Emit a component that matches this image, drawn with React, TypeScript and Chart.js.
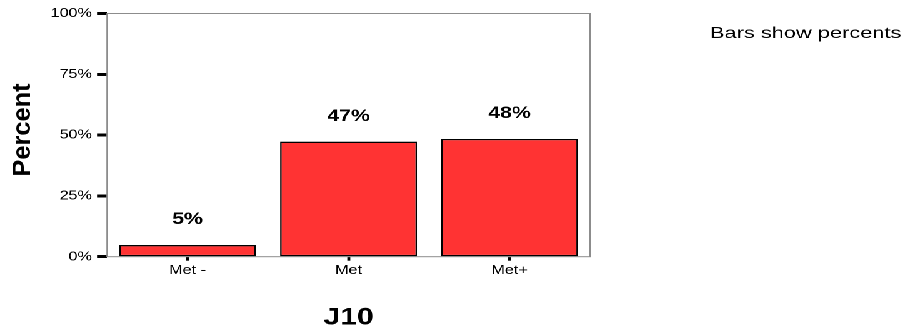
import React, { useEffect, useRef } from 'react';
import { Chart, registerables } from 'chart.js';

Chart.register(...registerables);

// ---- data ----
const categories: string[] = ['Met -', 'Met', 'Met+'];
const percents: number[] = [4.8, 47.3, 48.4];
const yTickValues: number[] = [0, 25, 50, 75, 100];
const xTitle = 'J10';
const yTitle = 'Percent';
const note = 'Bars show percents';

// ---- layout ----
const SX = 1.25; // horizontal stretch of the whole picture
const W = 725;
const H = 335;
const FONT = '"Liberation Sans", Arial, Helvetica, sans-serif';
const AREA_LEFT = 85.6;
const AREA_RIGHT = 472;
const AREA_TOP = 13.5;
const AREA_BOTTOM = 256.7;
const X_AXIS_H = 30;

export default function App() {
  const ref = useRef<HTMLCanvasElement>(null);

  useEffect(() => {
    const canvas = ref.current;
    if (!canvas) return;

    const decorations = {
      id: 'decorations',
      beforeDatasetsDraw(chart: any) {
        const { ctx, chartArea: a } = chart;
        ctx.save();
        ctx.strokeStyle = '#8c8c8c';
        ctx.lineWidth = 1;
        ctx.strokeRect(a.left, a.top, a.right - a.left, a.bottom - a.top);
        ctx.restore();
      },
      afterDatasetsDraw(chart: any) {
        const { ctx } = chart;
        const meta = chart.getDatasetMeta(0);
        ctx.save();
        ctx.fillStyle = '#000';
        ctx.font = `bold 17px ${FONT}`;
        ctx.textAlign = 'center';
        ctx.textBaseline = 'middle';
        meta.data.forEach((bar: any, i: number) => {
          ctx.fillText(`${Math.round(percents[i])}%`, bar.x, bar.y - 25.5);
        });
        ctx.restore();
      },
      afterDraw(chart: any) {
        const { ctx, chartArea: a } = chart;
        ctx.save();
        ctx.fillStyle = '#000';
        // x title
        ctx.font = `bold 24px ${FONT}`;
        ctx.textAlign = 'center';
        ctx.textBaseline = 'middle';
        ctx.fillText(xTitle, (a.left + a.right) / 2, 318);
        // y title
        ctx.save();
        ctx.translate(18.4, 130);
        ctx.rotate(-Math.PI / 2);
        ctx.scale(1.27, 1);
        ctx.font = `bold 20px ${FONT}`;
        ctx.textAlign = 'center';
        ctx.textBaseline = 'middle';
        ctx.fillText(yTitle, 0, 0);
        ctx.restore();
        // note
        ctx.save();
        ctx.translate(568, 38);
        ctx.scale(1.09, 1);
        ctx.font = `16px ${FONT}`;
        ctx.textAlign = 'left';
        ctx.textBaseline = 'alphabetic';
        ctx.fillText(note, 0, 0);
        ctx.restore();
        ctx.restore();
      },
    };

    const chart = new Chart(canvas, {
      type: 'bar',
      data: {
        labels: categories,
        datasets: [
          {
            data: percents,
            backgroundColor: '#ff3333',
            borderColor: '#000000',
            borderWidth: 1.3,
            borderSkipped: false,
            categoryPercentage: 0.85,
            barPercentage: 1,
          },
        ],
      },
      options: {
        responsive: false,
        animation: false,
        devicePixelRatio: 2,
        layout: {
          padding: {
            left: 0,
            top: AREA_TOP,
            right: W - AREA_RIGHT,
            bottom: H - AREA_BOTTOM - X_AXIS_H,
          },
        },
        plugins: {
          legend: { display: false },
          tooltip: { enabled: false },
          title: { display: false },
        },
        scales: {
          x: {
            type: 'category',
            afterFit(scale: any) {
              scale.height = X_AXIS_H;
            },
            border: { display: false },
            grid: {
              display: true,
              offset: false,
              drawOnChartArea: false,
              drawTicks: true,
              tickLength: 4,
              tickWidth: 2.4,
              tickColor: '#000',
              color: '#000',
            },
            ticks: {
              color: '#000',
              font: { family: FONT, size: 13 },
              padding: 2,
              maxRotation: 0,
            },
          },
          y: {
            type: 'linear',
            min: 0,
            max: 100,
            afterFit(scale: any) {
              scale.width = AREA_LEFT;
            },
            afterBuildTicks(scale: any) {
              scale.ticks = yTickValues.map((v) => ({ value: v }));
            },
            border: { display: false },
            grid: {
              display: true,
              drawOnChartArea: false,
              drawTicks: true,
              tickLength: 8,
              tickWidth: 3,
              tickColor: '#000',
              color: '#000',
            },
            ticks: {
              color: '#000',
              font: { family: FONT, size: 13 },
              padding: 4,
              callback: (v: any) => `${v}%`,
            },
          },
        },
      },
      plugins: [decorations],
    });

    return () => chart.destroy();
  }, []);

  return (
    <div
      style={{
        position: 'fixed',
        left: 0,
        top: 0,
        width: W,
        height: H,
        transform: `scaleX(${SX})`,
        transformOrigin: '0 0',
        background: '#fff',
      }}
    >
      <canvas
        ref={ref}
        width={W}
        height={H}
        style={{ width: `${W}px`, height: `${H}px`, display: 'block' }}
      />
    </div>
  );
}
